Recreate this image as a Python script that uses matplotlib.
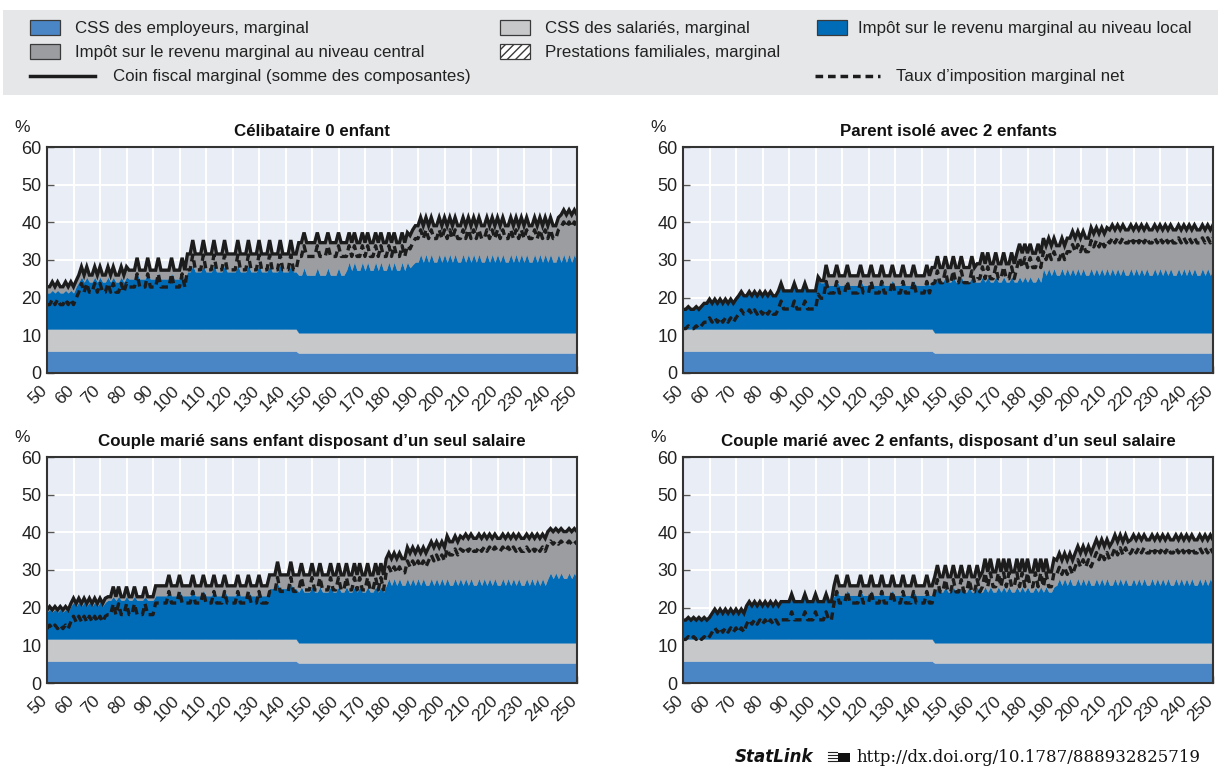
import numpy as np
import matplotlib
matplotlib.use("Agg")
import matplotlib.pyplot as plt
import matplotlib.transforms as mtransforms
from matplotlib.patches import Rectangle
from matplotlib.lines import Line2D

plt.rcParams['font.family'] = ['Liberation Sans', 'DejaVu Sans']

# Gross earnings, % of average wage
earnings = list(range(50, 251))

# Social security contributions (same schedule for all household types)
css_employer = [5.8] * 95 + [5.3] * 106
css_employee = [5.9] * 95 + [5.4] * 106

# Family benefits (marginal) - no change over the earnings range
family_benefits = [0.0] * 201

# Célibataire 0 enfant
local_single = [
    9.6, 9.6, 10.3, 9.6, 10.3, 9.6, 9.6, 10.3, 9.6, 10.3,
    9.6, 11.3, 12.5, 13.8, 12.5, 13.8, 12.5, 12.5, 13.8, 12.5,
    13.8, 12.5, 12.5, 13.8, 12.5, 13.8, 12.5, 12.5, 13.8, 12.5,
    13.8, 13.3, 13.3, 13.3, 14.8, 13.3, 13.3, 13.3, 14.8, 13.3,
    13.3, 13.3, 14.8, 13.3, 13.3, 13.3, 13.3, 14.8, 13.3, 13.3,
    13.3, 14.8, 13.3, 15.2, 15.2, 17.0, 15.2, 15.2, 15.2, 17.0,
    15.2, 15.2, 15.2, 17.0, 15.2, 15.2, 15.2, 17.0, 15.2, 15.2,
    15.2, 15.2, 17.0, 15.2, 15.2, 15.2, 17.0, 15.2, 15.2, 15.2,
    17.0, 15.2, 15.2, 15.2, 17.0, 15.2, 15.2, 15.2, 17.0, 15.2,
    15.2, 15.2, 17.0, 15.2, 15.2, 15.3, 15.3, 17.3, 15.3, 15.3,
    15.3, 15.3, 17.3, 15.3, 15.3, 15.3, 17.3, 15.3, 15.3, 15.3,
    17.3, 15.3, 15.3, 16.6, 18.8, 16.6, 18.8, 16.6, 16.6, 18.8,
    16.6, 18.8, 16.6, 16.6, 18.8, 16.6, 18.8, 16.6, 16.6, 18.8,
    16.6, 18.8, 16.6, 16.6, 18.8, 16.6, 18.8, 17.3, 18.1, 18.8,
    18.8, 20.9, 18.8, 20.9, 18.8, 20.9, 18.8, 18.8, 20.9, 18.8,
    20.9, 18.8, 20.9, 18.8, 20.9, 18.8, 18.8, 20.9, 18.8, 20.9,
    18.8, 20.9, 18.8, 20.9, 18.8, 18.8, 20.9, 18.8, 20.9, 18.8,
    20.9, 18.8, 20.9, 18.8, 18.8, 20.9, 18.8, 20.9, 18.8, 20.9,
    18.8, 20.9, 18.8, 18.8, 20.9, 18.8, 20.9, 18.8, 20.9, 18.8,
    20.9, 18.8, 18.8, 20.9, 18.8, 20.9, 18.8, 20.9, 18.8, 20.9,
    18.8,
]
central_single = [
    1.6, 1.6, 2.2, 1.6, 2.2, 1.6, 1.6, 2.2, 1.6, 2.2,
    1.6, 1.5, 1.8, 2.7, 1.8, 2.7, 1.8, 1.8, 2.7, 1.8,
    2.7, 1.8, 1.8, 2.7, 1.8, 2.7, 1.8, 1.8, 2.7, 1.8,
    2.7, 2.3, 2.3, 2.3, 4.1, 2.3, 2.3, 2.3, 4.1, 2.3,
    2.3, 2.3, 4.1, 2.3, 2.3, 2.3, 2.3, 4.1, 2.3, 2.3,
    2.3, 4.1, 2.3, 4.7, 4.7, 6.6, 4.7, 4.7, 4.7, 6.6,
    4.7, 4.7, 4.7, 6.6, 4.7, 4.7, 4.7, 6.6, 4.7, 4.7,
    4.7, 4.7, 6.6, 4.7, 4.7, 4.7, 6.6, 4.7, 4.7, 4.7,
    6.6, 4.7, 4.7, 4.7, 6.6, 4.7, 4.7, 4.7, 6.6, 4.7,
    4.7, 4.7, 6.6, 4.7, 4.7, 8.6, 8.6, 9.3, 8.6, 8.6,
    8.6, 8.6, 9.3, 8.6, 8.6, 8.6, 9.3, 8.6, 8.6, 8.6,
    9.3, 8.6, 8.6, 7.3, 7.8, 7.3, 7.8, 7.3, 7.3, 7.8,
    7.3, 7.8, 7.3, 7.3, 7.8, 7.3, 7.8, 7.3, 7.3, 7.8,
    7.3, 7.8, 7.3, 7.3, 7.8, 7.3, 7.8, 8.5, 9.2, 9.6,
    9.6, 9.7, 9.6, 9.7, 9.6, 9.7, 9.6, 9.6, 9.7, 9.6,
    9.7, 9.6, 9.7, 9.6, 9.7, 9.6, 9.6, 9.7, 9.6, 9.7,
    9.6, 9.7, 9.6, 9.7, 9.6, 9.6, 9.7, 9.6, 9.7, 9.6,
    9.7, 9.6, 9.7, 9.6, 9.6, 9.7, 9.6, 9.7, 9.6, 9.7,
    9.6, 9.7, 9.6, 9.6, 9.7, 9.6, 9.7, 9.6, 9.7, 9.6,
    9.7, 9.6, 9.6, 9.7, 12.5, 11.7, 12.5, 11.7, 12.5, 11.7,
    12.5,
]

# Parent isolé avec 2 enfants
local_lone_parent = [
    5.2, 5.2, 5.9, 5.2, 5.2, 5.9, 5.2, 6.0, 6.8, 6.8,
    7.9, 6.8, 7.9, 6.8, 7.9, 6.8, 7.9, 6.8, 7.9, 6.8,
    7.9, 8.8, 9.9, 8.8, 8.8, 9.9, 8.8, 9.9, 8.8, 9.9,
    8.8, 9.9, 8.8, 9.9, 8.8, 8.8, 10.1, 12.1, 10.1, 10.1,
    10.1, 10.1, 12.1, 10.1, 10.1, 10.1, 12.1, 10.1, 10.1, 10.1,
    10.1, 13.1, 12.3, 12.3, 13.0, 11.6, 11.6, 11.6, 13.0, 11.6,
    11.6, 11.6, 13.0, 11.6, 11.6, 11.6, 11.6, 13.0, 11.6, 11.6,
    11.6, 13.0, 11.6, 11.6, 11.6, 13.0, 11.6, 11.6, 11.6, 13.0,
    11.6, 11.6, 11.6, 13.0, 11.6, 11.6, 11.6, 13.0, 11.6, 11.6,
    11.6, 11.6, 13.0, 11.6, 12.8, 13.5, 14.9, 13.5, 13.5, 14.9,
    13.5, 13.5, 14.9, 13.5, 13.5, 14.9, 13.5, 13.5, 13.5, 14.9,
    13.5, 13.5, 13.5, 14.9, 13.5, 14.9, 13.5, 13.5, 14.9, 13.5,
    13.5, 14.9, 13.5, 13.5, 14.9, 13.5, 13.5, 14.9, 13.5, 14.9,
    13.5, 14.9, 13.5, 13.5, 14.9, 13.5, 17.1, 15.3, 17.1, 15.3,
    17.1, 15.3, 15.3, 17.1, 15.3, 17.1, 15.3, 17.1, 15.3, 17.1,
    15.3, 17.1, 15.3, 15.3, 17.1, 15.3, 17.1, 15.3, 17.1, 15.3,
    17.1, 15.3, 17.1, 15.3, 17.1, 15.3, 17.1, 15.3, 15.3, 17.1,
    15.3, 17.1, 15.3, 17.1, 15.3, 17.1, 15.3, 15.3, 17.1, 15.3,
    17.1, 15.3, 17.1, 15.3, 17.1, 15.3, 15.3, 17.1, 15.3, 17.1,
    15.3, 17.1, 15.3, 17.1, 15.3, 15.3, 17.1, 15.3, 17.1, 15.3,
    17.1,
]
central_lone_parent = [
    0.0, 0.0, 0.0, 0.0, 0.0, 0.0, 0.0, 0.0, 0.0, 0.0,
    0.0, 0.0, 0.0, 0.0, 0.0, 0.0, 0.0, 0.0, 0.0, 0.0,
    0.0, 0.0, 0.0, 0.0, 0.0, 0.0, 0.0, 0.0, 0.0, 0.0,
    0.0, 0.0, 0.0, 0.0, 0.0, 0.0, 0.0, 0.0, 0.0, 0.0,
    0.0, 0.0, 0.0, 0.0, 0.0, 0.0, 0.0, 0.0, 0.0, 0.0,
    0.0, 0.7, 0.5, 0.5, 4.0, 2.5, 2.5, 2.5, 4.0, 2.5,
    2.5, 2.5, 4.0, 2.5, 2.5, 2.5, 2.5, 4.0, 2.5, 2.5,
    2.5, 4.0, 2.5, 2.5, 2.5, 4.0, 2.5, 2.5, 2.5, 4.0,
    2.5, 2.5, 2.5, 4.0, 2.5, 2.5, 2.5, 4.0, 2.5, 2.5,
    2.5, 2.5, 4.0, 2.5, 3.5, 3.8, 5.4, 3.8, 3.8, 5.4,
    3.8, 3.8, 5.4, 3.8, 3.8, 5.4, 3.8, 3.8, 3.8, 5.4,
    3.8, 4.8, 4.8, 6.4, 4.8, 6.4, 4.8, 4.8, 6.4, 4.8,
    4.8, 6.4, 4.8, 4.8, 6.4, 4.8, 7.6, 8.7, 7.6, 8.7,
    7.6, 8.7, 7.6, 7.6, 8.7, 7.6, 8.0, 7.8, 8.0, 7.8,
    8.0, 7.8, 7.8, 8.0, 7.8, 8.0, 9.8, 9.8, 9.8, 9.8,
    9.8, 9.8, 9.8, 9.8, 10.8, 11.0, 10.8, 11.0, 10.8, 11.0,
    10.8, 12.0, 11.5, 12.0, 11.5, 12.0, 11.5, 12.0, 12.0, 11.5,
    12.0, 11.5, 12.0, 11.5, 12.0, 11.5, 12.0, 12.0, 11.5, 12.0,
    11.5, 12.0, 11.5, 12.0, 11.5, 12.0, 12.0, 11.5, 12.0, 11.5,
    12.0, 11.5, 12.0, 11.5, 12.0, 12.0, 11.5, 12.0, 11.5, 12.0,
    11.5,
]

# Couple marié sans enfant disposant d'un seul salaire
local_couple = [
    7.2, 7.9, 7.2, 7.9, 7.2, 7.9, 7.2, 7.9, 7.2, 8.8,
    9.8, 8.8, 9.8, 8.8, 9.8, 8.8, 9.8, 8.8, 9.8, 8.8,
    9.8, 8.8, 9.8, 10.3, 10.3, 11.3, 10.3, 11.3, 10.3, 10.3,
    11.3, 10.3, 10.3, 11.3, 10.3, 10.3, 10.3, 11.3, 10.3, 10.3,
    10.3, 11.5, 11.5, 11.5, 11.5, 11.5, 13.0, 11.5, 11.5, 11.5,
    13.0, 11.5, 11.5, 11.5, 11.5, 13.0, 11.5, 11.5, 11.5, 13.0,
    11.5, 11.5, 11.5, 13.0, 11.5, 11.5, 11.5, 13.0, 11.5, 11.5,
    11.5, 11.5, 13.0, 11.5, 11.5, 11.5, 13.0, 11.5, 11.5, 11.5,
    13.0, 11.5, 11.5, 11.5, 13.4, 13.4, 13.4, 14.8, 13.4, 13.4,
    13.4, 13.4, 14.8, 13.4, 13.4, 13.5, 14.9, 13.5, 13.5, 13.5,
    14.9, 13.5, 13.5, 14.9, 13.5, 13.5, 13.5, 14.9, 13.5, 13.5,
    14.9, 13.5, 13.5, 14.9, 13.5, 13.5, 14.9, 13.5, 14.9, 13.5,
    13.5, 14.9, 13.5, 13.5, 14.9, 13.5, 14.9, 13.5, 15.3, 17.1,
    15.3, 17.1, 15.3, 17.1, 15.3, 15.3, 17.1, 15.3, 17.1, 15.3,
    17.1, 15.3, 17.1, 15.3, 15.3, 17.1, 15.3, 17.1, 15.3, 17.1,
    15.3, 17.1, 15.3, 15.3, 17.1, 15.3, 17.1, 15.3, 17.1, 15.3,
    17.1, 15.3, 15.3, 17.1, 15.3, 17.1, 15.3, 17.1, 15.3, 17.1,
    15.3, 15.3, 17.1, 15.3, 17.1, 15.3, 17.1, 15.3, 17.1, 15.3,
    15.3, 17.1, 15.3, 17.1, 15.3, 17.1, 15.3, 17.1, 15.3, 17.1,
    18.6, 17.1, 18.6, 17.1, 18.6, 17.1, 17.1, 18.6, 17.1, 18.6,
    17.1,
]
central_couple = [
    0.5, 0.7, 0.5, 0.7, 0.5, 0.7, 0.5, 0.7, 0.5, 0.6,
    1.0, 0.6, 1.0, 0.6, 1.0, 0.6, 1.0, 0.6, 1.0, 0.6,
    1.0, 0.6, 1.0, 0.9, 0.9, 2.6, 0.9, 2.6, 0.9, 0.9,
    2.6, 0.9, 0.9, 2.6, 0.9, 0.9, 0.9, 2.6, 0.9, 0.9,
    0.9, 2.6, 2.6, 2.6, 2.6, 2.6, 4.0, 2.6, 2.6, 2.6,
    4.0, 2.6, 2.6, 2.6, 2.6, 4.0, 2.6, 2.6, 2.6, 4.0,
    2.6, 2.6, 2.6, 4.0, 2.6, 2.6, 2.6, 4.0, 2.6, 2.6,
    2.6, 2.6, 4.0, 2.6, 2.6, 2.6, 4.0, 2.6, 2.6, 2.6,
    4.0, 2.6, 2.6, 2.6, 3.6, 3.6, 3.6, 5.7, 3.6, 3.6,
    3.6, 3.6, 5.7, 3.6, 3.6, 4.5, 6.2, 4.5, 4.5, 4.5,
    6.2, 4.5, 4.5, 6.2, 4.5, 4.5, 4.5, 6.2, 4.5, 4.5,
    6.2, 4.5, 4.5, 6.2, 4.5, 4.5, 6.2, 4.5, 6.2, 4.5,
    4.5, 6.2, 4.5, 4.5, 6.2, 4.5, 6.2, 4.5, 7.0, 6.7,
    7.0, 6.7, 7.0, 6.7, 7.0, 7.0, 8.2, 8.5, 8.2, 8.5,
    8.2, 8.5, 8.2, 8.5, 10.0, 9.7, 10.0, 9.7, 10.0, 9.7,
    10.0, 11.2, 11.5, 11.5, 11.2, 11.5, 11.2, 12.4, 11.7, 12.4,
    11.7, 12.4, 12.4, 11.7, 12.4, 11.7, 12.4, 11.7, 12.4, 11.7,
    12.4, 12.4, 11.7, 12.4, 11.7, 12.4, 11.7, 12.4, 11.7, 12.4,
    12.4, 11.7, 12.4, 11.7, 12.4, 11.7, 12.4, 11.7, 12.4, 12.4,
    11.7, 12.4, 11.7, 12.4, 11.7, 12.4, 12.4, 11.7, 12.4, 11.7,
    12.4,
]

# Couple marié avec 2 enfants, disposant d'un seul salaire
local_couple_kids = [
    5.0, 5.0, 5.7, 5.0, 5.7, 5.0, 5.7, 5.0, 5.7, 5.0,
    5.7, 6.8, 7.9, 6.8, 7.9, 6.8, 7.9, 6.8, 7.9, 6.8,
    7.9, 6.8, 7.9, 6.8, 8.8, 9.9, 8.8, 9.9, 8.8, 9.9,
    8.8, 9.9, 8.8, 9.9, 8.8, 9.9, 8.8, 9.9, 9.9, 9.9,
    9.9, 11.9, 9.9, 9.9, 9.9, 9.9, 11.9, 9.9, 9.9, 9.9,
    11.9, 9.9, 9.9, 9.9, 11.9, 9.9, 9.9, 11.6, 13.0, 11.6,
    11.6, 11.6, 13.0, 11.6, 11.6, 11.6, 11.6, 13.0, 11.6, 11.6,
    11.6, 13.0, 11.6, 11.6, 11.6, 13.0, 11.6, 11.6, 11.6, 13.0,
    11.6, 11.6, 11.6, 13.0, 11.6, 11.6, 11.6, 13.0, 11.6, 11.6,
    11.6, 11.6, 13.0, 11.6, 11.6, 13.5, 14.9, 13.5, 13.5, 14.9,
    13.5, 13.5, 14.9, 13.5, 13.5, 14.9, 13.5, 13.5, 14.9, 13.5,
    13.5, 14.9, 13.5, 13.5, 14.9, 13.5, 14.9, 13.5, 13.5, 14.9,
    13.5, 14.9, 13.5, 14.9, 13.5, 13.5, 14.9, 13.5, 14.9, 13.5,
    14.9, 13.5, 13.5, 14.9, 13.5, 14.9, 13.5, 14.9, 13.5, 13.5,
    14.9, 15.3, 17.1, 15.3, 17.1, 15.3, 17.1, 15.3, 15.3, 17.1,
    15.3, 17.1, 15.3, 17.1, 15.3, 15.3, 17.1, 15.3, 17.1, 15.3,
    17.1, 15.3, 15.3, 17.1, 15.3, 17.1, 15.3, 17.1, 15.3, 15.3,
    17.1, 15.3, 17.1, 15.3, 17.1, 15.3, 15.3, 17.1, 15.3, 17.1,
    15.3, 17.1, 15.3, 17.1, 15.3, 15.3, 17.1, 15.3, 17.1, 15.3,
    17.1, 15.3, 17.1, 15.3, 15.3, 17.1, 15.3, 17.1, 15.3, 17.1,
    15.3,
]
central_couple_kids = [
    0.0, 0.0, 0.0, 0.0, 0.0, 0.0, 0.0, 0.0, 0.0, 0.0,
    0.0, 0.0, 0.0, 0.0, 0.0, 0.0, 0.0, 0.0, 0.0, 0.0,
    0.0, 0.0, 0.0, 0.0, 0.0, 0.0, 0.0, 0.0, 0.0, 0.0,
    0.0, 0.0, 0.0, 0.0, 0.0, 0.0, 0.0, 0.0, 0.0, 0.0,
    0.0, 0.0, 0.0, 0.0, 0.0, 0.0, 0.0, 0.0, 0.0, 0.0,
    0.0, 0.0, 0.0, 0.0, 0.0, 0.0, 0.0, 2.5, 4.0, 2.5,
    2.5, 2.5, 4.0, 2.5, 2.5, 2.5, 2.5, 4.0, 2.5, 2.5,
    2.5, 4.0, 2.5, 2.5, 2.5, 4.0, 2.5, 2.5, 2.5, 4.0,
    2.5, 2.5, 2.5, 4.0, 2.5, 2.5, 2.5, 4.0, 2.5, 2.5,
    2.5, 2.5, 4.0, 2.5, 2.5, 4.0, 5.7, 4.0, 4.0, 5.7,
    4.0, 4.0, 5.7, 4.0, 4.0, 5.7, 4.0, 4.0, 5.7, 4.0,
    4.0, 5.7, 4.0, 5.3, 7.4, 5.3, 7.4, 5.3, 5.3, 7.4,
    5.3, 7.4, 5.3, 7.4, 5.3, 5.3, 7.4, 5.3, 7.4, 5.3,
    7.4, 5.3, 5.3, 7.4, 5.3, 7.4, 5.3, 7.4, 5.3, 5.3,
    7.4, 6.6, 6.6, 6.6, 6.6, 6.6, 6.6, 6.6, 8.5, 8.5,
    8.5, 8.5, 8.5, 8.5, 8.5, 10.3, 10.3, 10.3, 10.3, 10.3,
    10.3, 10.3, 11.5, 11.5, 11.5, 11.5, 11.5, 11.5, 11.5, 12.0,
    11.5, 12.0, 11.5, 12.0, 11.5, 12.0, 12.0, 11.5, 12.0, 11.5,
    12.0, 11.5, 12.0, 11.5, 12.0, 12.0, 11.5, 12.0, 11.5, 12.0,
    11.5, 12.0, 11.5, 12.0, 12.0, 11.5, 12.0, 11.5, 12.0, 11.5,
    12.0,
]

panel_titles = [
    "Célibataire 0 enfant",
    "Parent isolé avec 2 enfants",
    "Couple marié sans enfant disposant d\u2019un seul salaire",
    "Couple marié avec 2 enfants, disposant d\u2019un seul salaire",
]
panel_local = [local_single, local_lone_parent, local_couple, local_couple_kids]
panel_central = [central_single, central_lone_parent, central_couple, central_couple_kids]

legend_labels = [
    "CSS des employeurs, marginal",
    "CSS des salariés, marginal",
    "Impôt sur le revenu marginal au niveau local",
    "Impôt sur le revenu marginal au niveau central",
    "Prestations familiales, marginal",
    "Coin fiscal marginal (somme des composantes)",
    "Taux d\u2019imposition marginal net",
]

C_EMP = "#4A86C6"
C_SAL = "#C7C8CA"
C_LOC = "#006CB8"
C_CEN = "#9C9DA1"
C_BG = "#E9EDF5"
C_LEG = "#E6E7E8"
C_INK = "#1C1C1C"

W, H = 1218, 768
fig = plt.figure(figsize=(W / 100, H / 100), dpi=100)


def fx(px):
    return px / W


def fy(py):
    return 1 - py / H


# ---- legend band ----
fig.add_artist(Rectangle((fx(3), fy(95)), fx(W - 3), 85 / H, transform=fig.transFigure,
                         facecolor=C_LEG, edgecolor="none", zorder=0))


def legend_patch(px, py, color, hatch=None):
    fig.add_artist(Rectangle((fx(px), fy(py + 7)), 30 / W, 15 / H, transform=fig.transFigure,
                             facecolor=color, edgecolor="#3a3a3a", linewidth=0.9,
                             hatch=hatch, zorder=2))


def legend_text(px, py, s):
    fig.text(fx(px), fy(py), s, fontsize=12.2, va="center", ha="left", color="#222222")


rows = [28, 52, 76]
legend_patch(30, rows[0], C_EMP)
legend_text(75, rows[0], legend_labels[0])
legend_patch(30, rows[1], C_CEN)
legend_text(75, rows[1], legend_labels[3])
legend_patch(500, rows[0], C_SAL)
legend_text(545, rows[0], legend_labels[1])
legend_patch(500, rows[1], "white", hatch="////")
legend_text(545, rows[1], legend_labels[4])
legend_patch(817, rows[0], C_LOC)
legend_text(858, rows[0], legend_labels[2])
fig.add_artist(Line2D([fx(30), fx(95)], [fy(rows[2]), fy(rows[2])], transform=fig.transFigure,
                      color=C_INK, lw=2.5))
legend_text(113, rows[2], legend_labels[5])
fig.add_artist(Line2D([fx(815), fx(880)], [fy(rows[2]), fy(rows[2])], transform=fig.transFigure,
                      color=C_INK, lw=2.5, dashes=(2.2, 1.4)))
legend_text(896, rows[2], legend_labels[6])

# ---- panels ----
x = np.array(earnings)
emp = np.array(css_employer)
sal = np.array(css_employee)
fam = np.array(family_benefits)
positions = [(47, 147), (683, 147), (47, 457), (683, 457)]
pw, ph = 530, 226
label_shift = mtransforms.ScaledTranslation(3 / 100, 0, fig.dpi_scale_trans)

for i, (left, top) in enumerate(positions):
    loc = np.array(panel_local[i])
    cen = np.array(panel_central[i])
    assert len(loc) == len(x) and len(cen) == len(x)
    ax = fig.add_axes([fx(left), fy(top + ph), pw / W, ph / H])
    ax.set_facecolor(C_BG)
    ax.stackplot(x, emp, sal, loc, cen, colors=[C_EMP, C_SAL, C_LOC, C_CEN],
                 edgecolor="face", linewidth=0.3, zorder=2)
    wedge = emp + sal + loc + cen - fam
    # net marginal rate relative to gross wage (employer contributions excluded)
    net = (wedge - emp) / (100 - emp) * 100
    ax.plot(x, wedge, color=C_INK, lw=2.4, solid_joinstyle="miter", zorder=4)
    ax.plot(x, net, color=C_INK, lw=2.4, dashes=(2.2, 1.4), zorder=4)

    ax.set_xlim(50, 250)
    ax.set_ylim(0, 60)
    ax.set_xticks(range(50, 251, 10))
    ax.set_yticks(range(0, 61, 10))
    ax.grid(True, color="white", lw=1.4, zorder=1)
    ax.set_axisbelow(True)
    for sp in ax.spines.values():
        sp.set_color("#333333")
        sp.set_linewidth(1.5)
        sp.set_zorder(6)
    ax.tick_params(direction="in", length=5, width=1, color="#555555", labelsize=13,
                   labelcolor="#222222", pad=4)
    ax.tick_params(axis="x", pad=7)
    for lab in ax.get_xticklabels():
        lab.set_rotation(45)
        lab.set_ha("right")
        lab.set_va("top")
        lab.set_fontsize(12.5)
        lab.set_transform(lab.get_transform() + label_shift)
    ax.set_title(panel_titles[i], fontsize=12.2, fontweight="bold", pad=8, color="#111111")
    fig.text(fx(left - 25), fy(top - 20), "%", fontsize=12.5, ha="center", va="center",
             color="#222222")

# ---- source line ----
fig.text(fx(735), fy(757), "StatLink", fontsize=12, style="italic", fontweight="bold",
         family=["DejaVu Sans"], va="center", ha="left", color="#111111")
icon_x = 828
for k in range(4):
    fig.add_artist(Line2D([fx(icon_x), fx(icon_x + 9)], [fy(752 + 3 * k), fy(752 + 3 * k)],
                          transform=fig.transFigure, color="#222222", lw=0.8))
fig.add_artist(Rectangle((fx(icon_x + 10), fy(762)), 12 / W, 9 / H, transform=fig.transFigure,
                         facecolor="#111111", edgecolor="none"))
fig.text(fx(856), fy(757), "http://dx.doi.org/10.1787/888932825719", fontsize=12,
         family=["DejaVu Serif"], va="center", ha="left", color="#111111")

fig.savefig("out.png", dpi=100, facecolor="white")
